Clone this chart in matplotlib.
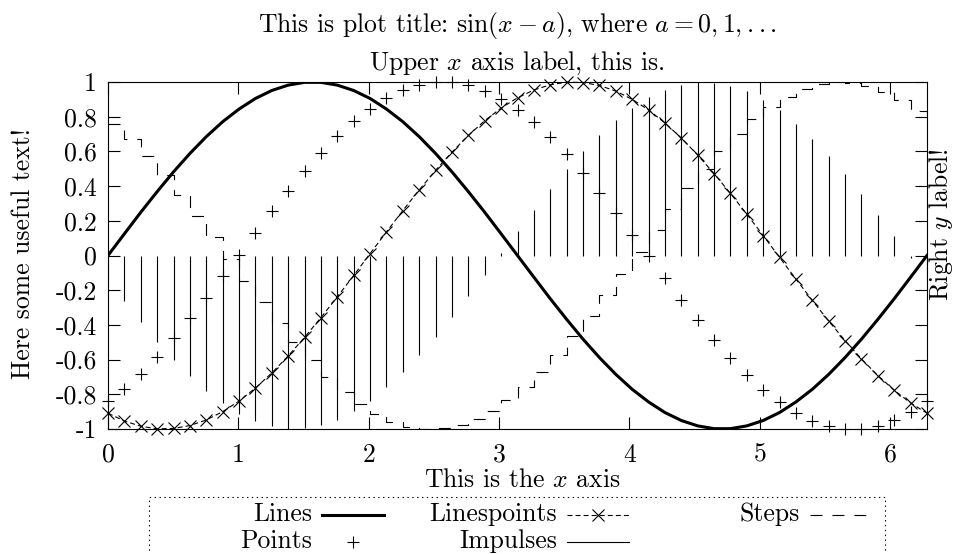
"""
sin(x - a) for a = 0..4, each drawn with a different gnuplot-like style
"""

import numpy as np
import matplotlib
matplotlib.use("Agg")
import matplotlib.pyplot as plt
from matplotlib.lines import Line2D
from matplotlib.patches import Rectangle
from matplotlib.ticker import FuncFormatter

# 51 samples over [0, 2*pi]
x_samples = np.linspace(0, 2 * np.pi, 51)

# a = 0 -> Lines
lines_y = [0.000, 0.125, 0.249, 0.368, 0.482, 0.588, 0.685, 0.771, 0.844, 0.905,
           0.951, 0.982, 0.998, 0.998, 0.982, 0.951, 0.905, 0.844, 0.771, 0.685,
           0.588, 0.482, 0.368, 0.249, 0.125, 0.000, -0.125, -0.249, -0.368, -0.482,
           -0.588, -0.685, -0.771, -0.844, -0.905, -0.951, -0.982, -0.998, -0.998, -0.982,
           -0.951, -0.905, -0.844, -0.771, -0.685, -0.588, -0.482, -0.368, -0.249, -0.125,
           0.000]

# a = 1 -> Points
points_y = [-0.841, -0.767, -0.681, -0.584, -0.477, -0.363, -0.244, -0.120, 0.005, 0.131,
            0.254, 0.373, 0.486, 0.592, 0.688, 0.774, 0.847, 0.907, 0.953, 0.983,
            0.998, 0.998, 0.981, 0.949, 0.903, 0.841, 0.767, 0.681, 0.584, 0.477,
            0.363, 0.244, 0.120, -0.005, -0.131, -0.254, -0.373, -0.486, -0.592, -0.688,
            -0.774, -0.847, -0.907, -0.953, -0.983, -0.998, -0.998, -0.981, -0.949, -0.903,
            -0.841]

# a = 2 -> Linespoints
linespoints_y = [-0.909, -0.954, -0.984, -0.999, -0.997, -0.980, -0.948, -0.900, -0.839, -0.764,
                 -0.677, -0.579, -0.472, -0.358, -0.238, -0.115, 0.011, 0.136, 0.259, 0.378,
                 0.491, 0.596, 0.692, 0.777, 0.850, 0.909, 0.954, 0.984, 0.999, 0.997,
                 0.980, 0.948, 0.900, 0.839, 0.764, 0.677, 0.579, 0.472, 0.358, 0.238,
                 0.115, -0.011, -0.136, -0.259, -0.378, -0.491, -0.596, -0.692, -0.777, -0.850,
                 -0.909]

# a = 3 -> Impulses
impulses_y = [-0.141, -0.264, -0.383, -0.496, -0.601, -0.696, -0.781, -0.853, -0.912, -0.956,
              -0.985, -0.999, -0.997, -0.979, -0.946, -0.898, -0.836, -0.760, -0.673, -0.575,
              -0.468, -0.353, -0.233, -0.110, 0.016, 0.141, 0.264, 0.383, 0.496, 0.601,
              0.696, 0.781, 0.853, 0.912, 0.956, 0.985, 0.999, 0.997, 0.979, 0.946,
              0.898, 0.836, 0.760, 0.673, 0.575, 0.468, 0.353, 0.233, 0.110, -0.016,
              -0.141]

# a = 4 -> Steps
steps_y = [0.757, 0.669, 0.571, 0.463, 0.348, 0.228, 0.104, -0.021, -0.146, -0.269,
           -0.388, -0.500, -0.605, -0.700, -0.784, -0.856, -0.914, -0.958, -0.986, -0.999,
           -0.997, -0.978, -0.945, -0.896, -0.833, -0.757, -0.669, -0.571, -0.463, -0.348,
           -0.228, -0.104, 0.021, 0.146, 0.269, 0.388, 0.500, 0.605, 0.700, 0.784,
           0.856, 0.914, 0.958, 0.986, 0.999, 0.997, 0.978, 0.945, 0.896, 0.833,
           0.757]

x_ticks = [0, 1, 2, 3, 4, 5, 6]
y_ticks = np.linspace(-1, 1, 11)

plt.rcParams["font.family"] = "cmr10"
plt.rcParams["mathtext.fontset"] = "cm"
plt.rcParams["axes.unicode_minus"] = False
plt.rcParams["lines.scale_dashes"] = False

FS = 18.5
W, H = 956, 554


def fx(px):
    return px / W


def fy(py):
    return 1 - py / H


fig = plt.figure(figsize=(W / 100, H / 100), dpi=100)
ax = fig.add_axes([fx(108), fy(429), (927 - 108) / W, (429 - 82) / H])

line_style = dict(color="black", lw=2.2)
points_style = dict(color="black", ls="none", marker="+", ms=8, mew=0.8)
lp_style = dict(color="black", lw=0.8, dashes=(3.6, 2.2), marker="x", ms=8.5, mew=0.8)
imp_style = dict(color="black", lw=0.8)
steps_style = dict(color="black", lw=0.8, dashes=(8.6, 7.2))

ax.plot(x_samples, lines_y, **line_style)
ax.plot(x_samples, points_y, clip_on=False, **points_style)
ax.plot(x_samples, linespoints_y, clip_on=False, **lp_style)
ax.vlines(x_samples, 0, impulses_y, **imp_style)
ax.plot(x_samples, steps_y, drawstyle="steps-post", **steps_style)

ax.set_xlim(0, 2 * np.pi)
ax.set_ylim(-1, 1)
ax.set_xticks(x_ticks)
ax.set_yticks(y_ticks)
ax.yaxis.set_major_formatter(FuncFormatter(lambda v, pos: f"{round(v, 1) + 0.0:g}"))
ax.tick_params(direction="in", length=8.5, width=0.8, top=True, right=True, labelsize=FS)
ax.tick_params(axis="x", pad=10)
ax.tick_params(axis="y", pad=8)
for sp in ax.spines.values():
    sp.set_linewidth(0.8)

# titles and axis labels
fig.text(fx(517), fy(32), r"This is plot title: $\sin(x-a)$, where $a=0,1,...$",
         ha="center", va="baseline", fontsize=FS)
fig.text(fx(517), fy(70), r"Upper $x$ axis label, this is.",
         ha="center", va="baseline", fontsize=FS)
fig.text(fx(522), fy(487), r"This is the $x$ axis",
         ha="center", va="baseline", fontsize=FS)
fig.text(fx(23), fy(254), "Here some useful text!", rotation=90,
         ha="center", va="center", fontsize=FS)
fig.text(fx(941), fy(225), r"Right $y$ label!", rotation=90,
         ha="center", va="center", fontsize=FS)

# key below the plot, gnuplot style: label, then sample
fig.add_artist(Rectangle((fx(149), fy(600)), (885 - 149) / W, (600 - 497) / H,
                         transform=fig.transFigure, fill=False, lw=0.8,
                         ls=(0, (1, 2.5)), color="black"))

key = [
    ("Lines", 312, 521, line_style, False),
    ("Linespoints", 557, 521, lp_style, True),
    ("Steps", 800, 521, steps_style, False),
    ("Points", 312, 548, points_style, True),
    ("Impulses", 557, 548, imp_style, False),
]
for label, xr, yb, style, mid_marker in key:
    fig.text(fx(xr), fy(yb), label, ha="right", va="baseline", fontsize=FS)
    x0, x1 = xr + 10, xr + 72
    ys = fy(yb - 6)
    if mid_marker:
        xs = [fx(x0), fx((x0 + x1) / 2), fx(x1)]
        st = dict(style)
        if st.get("ls") == "none":
            handle = Line2D([xs[1]], [ys], transform=fig.transFigure, **st)
        else:
            handle = Line2D(xs, [ys] * 3, markevery=[1], transform=fig.transFigure, **st)
    else:
        handle = Line2D([fx(x0), fx(x1)], [ys, ys], transform=fig.transFigure, **style)
    fig.add_artist(handle)

fig.savefig("out.png", dpi=100)
